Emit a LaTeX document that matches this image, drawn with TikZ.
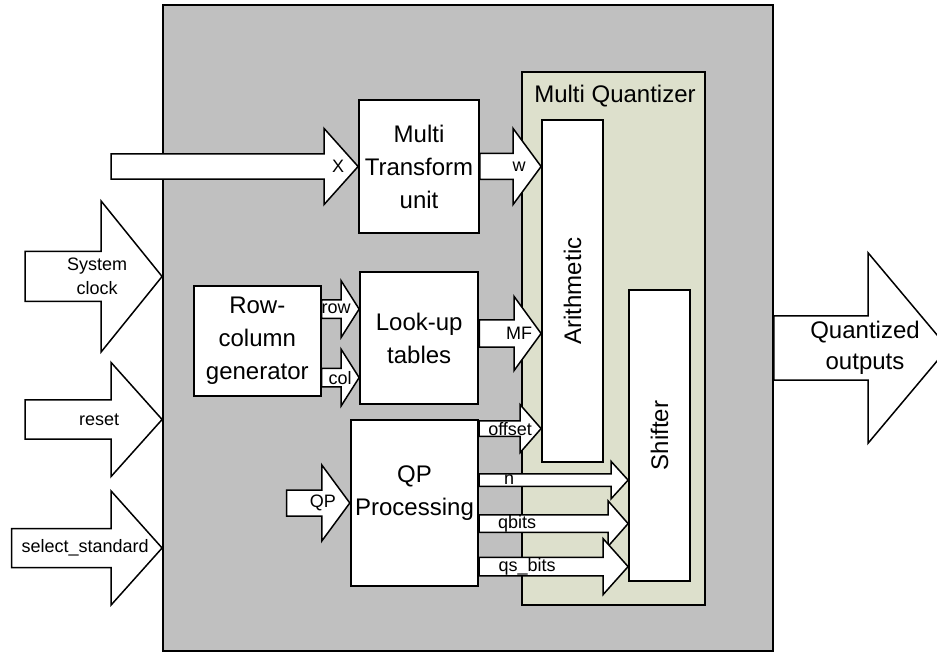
\documentclass[tikz,border=0pt]{standalone}
\usepackage{fontspec}
\setmainfont{Liberation Sans}
\usetikzlibrary{calc,positioning}
\definecolor{chipgray}{RGB}{192,192,192}
\definecolor{quantgreen}{RGB}{221,224,204}
\tikzset{
  blk/.style={draw,fill=white,line width=1.8pt,inner sep=0pt,align=center,
              font=\fontsize{24}{33}\selectfont},
  barrow/.style={draw,fill=white,line width=1.5pt,line join=miter},
  lbl/.style={inner sep=0pt,align=center,font=\fontsize{18}{24}\selectfont},
}
%% block arrow: [label opts]{from}{tip}{shaft half}{head half}{head length}{label back}{label}
\newcommand{\blockarrow}[8][]{%
  \draw[barrow] ($(#2)+(0,#4)$) -- ($(#3)+(-#6,#4)$) -- ($(#3)+(-#6,#5)$) -- (#3)
    -- ($(#3)+(-#6,-#5)$) -- ($(#3)+(-#6,-#4)$) -- ($(#2)+(0,-#4)$) -- cycle;
  \node[lbl,#1] at ($(#3)+(-#7,0)$) {#8};}

\begin{document}
\begin{tikzpicture}[x=1pt,y=-1pt]
  \path[use as bounding box] (0,0) rectangle (937,652);
  \clip (0,0) rectangle (937,652);
  %% Chip
  \node[draw,fill=chipgray,line width=1.8pt,inner sep=0pt,
        minimum width=610,minimum height=646] (chip) at (468,328) {};
  %% Multi quantizer
  \node[draw,fill=quantgreen,line width=1.8pt,inner sep=0pt,
        minimum width=183,minimum height=533] (mq) at (613.5,338.5) {};
  \node[anchor=base,inner sep=0pt,font=\fontsize{24}{33}\selectfont]
        (mqtitle) at (615,103) {Multi Quantizer};
  \node[blk,minimum width=61,minimum height=342] (arith) at (572.5,291) {};
  \node[rotate=90,font=\fontsize{24}{33}\selectfont] (arithtxt) at (arith.center) {Arithmetic};
  \node[blk,minimum width=61,minimum height=291] (shift) at (659.5,435.5) {};
  \node[rotate=90,font=\fontsize{24}{33}\selectfont] (shifttxt) at (shift.center) {Shifter};
  %% Units
  \node[blk,minimum width=120,minimum height=133] (mtu) at (419,166.5) {Multi\\Transform\\unit};
  \node[blk,minimum width=126.7,minimum height=110] (rcg) at (257.3,341) {Row-\\column\\generator};
  \node[blk,minimum width=118.3,minimum height=132] (lut) at (419.2,338.3) {Look-up\\tables};
  \node[blk,minimum width=127.6,minimum height=166] (qpp) at (414.5,503) {};
  \node[inner sep=0pt,align=center,font=\fontsize{24}{33}\selectfont]
        (qpptxt) at ([yshift=9.5pt]qpp.center) {QP\\Processing};

  %% Arrow ends
  \coordinate (xin) at (111,166.5);
  \coordinate (qpin) at (286.7,503);
  \coordinate (clkin) at (25,276.5);
  \coordinate (rstin) at (25,419.5);
  \coordinate (selin) at (11.7,548);
  \coordinate (outtip) at (948,348);
  \coordinate (wtip) at (mtu.east -| arith.west);
  \coordinate (mfst) at ([yshift=4.8pt]lut.east);
  \coordinate (mftip) at (mfst -| arith.west);
  \coordinate (rowst) at ([yshift=-24pt]rcg.north east);
  \coordinate (rowtip) at (rowst -| lut.west);
  \coordinate (colst) at ([yshift=19.3pt]rcg.south east);
  \coordinate (coltip) at (colst -| lut.west);
  \coordinate (offst) at ([yshift=-9.5pt]qpp.north east);
  \coordinate (offtip) at (offst -| arith.west);
  \coordinate (nst) at ([yshift=-61pt]qpp.north east);
  \coordinate (ntip) at (nst -| shift.west);
  \coordinate (qbst) at ([yshift=-104.5pt]qpp.north east);
  \coordinate (qbtip) at (qbst -| shift.west);
  \coordinate (qsst) at ([yshift=-147.5pt]qpp.north east);
  \coordinate (qstip) at (qsst -| shift.west);
  \coordinate (clktip) at (clkin -| chip.west);
  \coordinate (rsttip) at (rstin -| chip.west);
  \coordinate (seltip) at (selin -| chip.west);
  \coordinate (outst) at (outtip -| chip.east);

  %% Arrows
  \blockarrow{xin}{mtu.west}{12.7}{38}{34}{20}{X}
  \blockarrow{mtu.east}{wtip}{13}{38}{28}{22}{w}
  \blockarrow{mfst}{mftip}{13.7}{37}{27}{22}{MF}
  \blockarrow{rowst}{rowtip}{9.3}{28.3}{18}{23}{row}
  \blockarrow{colst}{coltip}{9.3}{28.3}{18}{19}{col}
  \blockarrow{offst}{offtip}{7.8}{24}{21}{31}{offset}
  \blockarrow{nst}{ntip}{6.2}{18.7}{17}{119}{n}
  \blockarrow{qbst}{qbtip}{8.7}{22.7}{20}{111}{qbits}
  \blockarrow{qsst}{qstip}{9.2}{28}{25}{101}{qs\_bits}
  \blockarrow{qpin}{qpp.west}{13}{38}{28}{27}{QP}
  \blockarrow{clkin}{clktip}{25}{75.5}{61}{65}{System\\clock}
  \blockarrow{rstin}{rsttip}{19.7}{57}{51}{63}{reset}
  \blockarrow{selin}{seltip}{19.5}{57}{51}{77}{select\_standard}
  \blockarrow[font=\fontsize{24}{31}\selectfont]{outst}{outtip}{32.2}{95.3}{80}{83}{Quantized\\outputs}
\end{tikzpicture}
\end{document}
